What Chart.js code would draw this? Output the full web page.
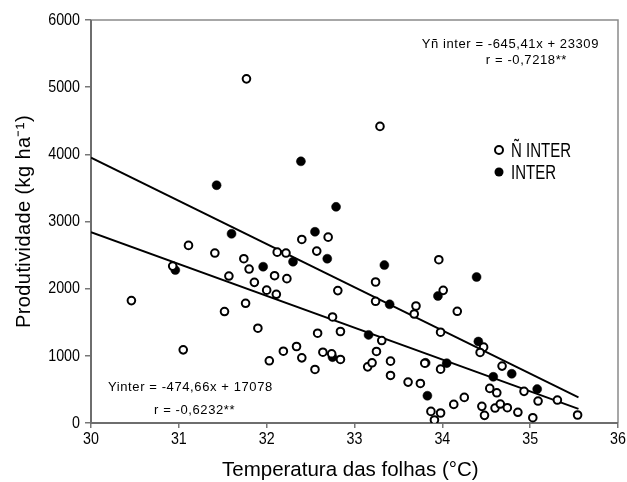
<!DOCTYPE html>
<html>
<head>
<meta charset="utf-8">
<script src="https://cdn.jsdelivr.net/npm/chart.js@4.4.0/dist/chart.umd.min.js"></script>
<style>
html,body{margin:0;padding:0;background:#fff;}
#wrap{width:627px;height:482px;position:relative;}
</style>
</head>
<body>
<div id="wrap"><canvas id="c" width="627" height="482"></canvas></div>
<script>
// Ñ INTER (open circles)
const nInterX = [31.77,33.29,30.46,31.05,30.93,31.11,31.41,31.57,31.52,31.74,31.80,31.86,31.76,31.90,32.00,32.09,32.11,32.12,32.22,32.23,32.03,32.19,32.34,32.40,32.55,32.40,32.57,32.70,32.81,32.75,32.58,32.84,32.64,32.74,32.84,33.96,33.24,33.24,34.01,33.70,33.68,34.17,33.98,33.31,33.25,33.15,33.20,33.41,33.41,33.80,33.98,33.61,33.75,33.87,33.98,33.91,34.13,34.25,34.47,34.43,34.68,34.54,34.62,34.45,34.48,34.60,34.66,34.74,34.86,34.93,35.09,35.03,35.31,35.54];
const nInterY = [5124,4416,1822,1089,2336,2644,2530,2188,1659,2446,2292,2094,1782,1411,1978,2193,1916,2544,2530,2149,926,1069,1139,970,797,2733,2559,2767,1971,1579,1337,1362,1054,1030,946,2431,2099,1812,1975,1742,1623,1663,1352,1228,1065,836,896,921,708,890,802,609,589,173,149,45,277,381,1129,1050,847,515,450,248,114,223,282,228,159,471,327,79,342,119];
// INTER (filled circles)
const interX = [30.96,31.60,31.96,32.30,32.55,32.69,32.75,31.43,32.39,32.79,33.34,34.39,33.40,33.95,33.16,33.81,34.05,33.83,34.41,34.79,34.58,35.08];
const interY = [2277,2817,2327,2401,2847,2446,980,3540,3896,3218,2351,2173,1767,1891,1312,896,891,406,1213,733,688,505];
// regression lines (end points)
const lineNX = [30, 35.55], lineNY = [3950, 380];
const lineIX = [30, 35.55], lineIY = [2840, 210];
// axes
const xTicks = [30,31,32,33,34,35,36];
const yTicks = [0,1000,2000,3000,4000,5000,6000];
const legendLabels = ['Ñ INTER','INTER'];
const eqN = ['Yñ inter = -645,41x + 23309','r = -0,7218**'];
const eqI = ['Yinter = -474,66x + 17078','r = -0,6232**'];
const xTitle = 'Temperatura das folhas (°C)';
const yTitle = 'Produtividade (kg ha⁻¹)';

const pts = (xs, ys) => xs.map((x,i)=>({x:x, y:ys[i]}));
const REG = '"Liberation Sans",Arial,sans-serif';

function sText(ctx, txt, x, y, size, sx, align, spacing){
  ctx.save();
  ctx.font = size + 'px ' + REG;
  ctx.textAlign = align;
  ctx.textBaseline = 'middle';
  if (spacing) ctx.letterSpacing = spacing + 'px';
  ctx.translate(x, y);
  ctx.scale(sx, 1);
  ctx.fillText(txt, 0, 0);
  ctx.restore();
}

const framePlugin = {
  id:'frame',
  beforeDatasetsDraw(chart){
    const a = chart.chartArea, ctx = chart.ctx;
    ctx.save();
    ctx.strokeStyle = '#8a8a8a';
    ctx.lineWidth = 1.5;
    ctx.beginPath();
    ctx.moveTo(a.left, a.top); ctx.lineTo(a.right, a.top); ctx.lineTo(a.right, a.bottom);
    ctx.stroke();
    ctx.strokeStyle = '#6e6e6e';
    ctx.lineWidth = 2;
    ctx.beginPath();
    ctx.moveTo(a.left, a.top); ctx.lineTo(a.left, a.bottom); ctx.lineTo(a.right, a.bottom);
    ctx.stroke();
    ctx.restore();
  },
  afterDraw(chart){
    const ctx = chart.ctx, sx = chart.scales.x, sy = chart.scales.y, a = chart.chartArea;
    ctx.save();
    ctx.fillStyle = '#000';
    // tick labels (condensed)
    xTicks.forEach(v => sText(ctx, String(v), sx.getPixelForValue(v), 439, 17, 0.84, 'center'));
    yTicks.forEach(v => sText(ctx, String(v), 80, sy.getPixelForValue(v), 17, 0.84, 'right'));
    // axis titles
    sText(ctx, xTitle, 222, 470, 20.5, 1, 'left');
    ctx.save();
    ctx.translate(24, (a.top + a.bottom) / 2);
    ctx.rotate(-Math.PI / 2);
    sText(ctx, yTitle, 0, 0, 20, 1, 'center', 0.4);
    ctx.restore();
    // equations
    sText(ctx, eqN[0], 599, 44, 13, 1, 'right', 0.6);
    sText(ctx, eqN[1], 567, 60, 13, 1, 'right', 0.6);
    sText(ctx, eqI[0], 108, 387, 13, 1, 'left', 0.6);
    sText(ctx, eqI[1], 154, 410, 13, 1, 'left', 0.6);
    // legend
    const lx = 499;
    ctx.lineWidth = 2;
    ctx.strokeStyle = '#000';
    ctx.beginPath(); ctx.arc(lx, 150, 4, 0, Math.PI*2); ctx.stroke();
    sText(ctx, legendLabels[0], 511, 151, 20, 0.75, 'left');
    ctx.beginPath(); ctx.arc(lx, 172, 4.5, 0, Math.PI*2); ctx.fill();
    sText(ctx, legendLabels[1], 511, 173, 20, 0.75, 'left');
    ctx.restore();
  }
};

new Chart(document.getElementById('c'), {
  type:'scatter',
  data:{
    datasets:[
      {label:'lineN', type:'line', data:pts(lineNX,lineNY), borderColor:'#000', borderWidth:1.9, pointRadius:0, fill:false, order:3},
      {label:'lineI', type:'line', data:pts(lineIX,lineIY), borderColor:'#000', borderWidth:1.9, pointRadius:0, fill:false, order:3},
      {label:legendLabels[0], data:pts(nInterX,nInterY), pointRadius:3.8, pointBorderWidth:2, pointBorderColor:'#000', pointBackgroundColor:'#fff', order:1},
      {label:legendLabels[1], data:pts(interX,interY), pointRadius:4.5, pointBorderWidth:0.5, pointBorderColor:'#000', pointBackgroundColor:'#000', order:2}
    ]
  },
  options:{
    responsive:false,
    animation:false,
    layout:{padding:{top:20, right:9, left:0, bottom:0}},
    plugins:{legend:{display:false}, tooltip:{enabled:false}},
    scales:{
      x:{
        type:'linear', min:30, max:36,
        afterBuildTicks(s){ s.ticks = xTicks.map(v=>({value:v})); },
        afterFit(s){ s.height = 59; s.paddingLeft = 0; s.paddingRight = 0; },
        grid:{drawOnChartArea:false, color:'#777', tickLength:5, lineWidth:1.5},
        border:{display:false},
        ticks:{display:false},
        title:{display:false}
      },
      y:{
        type:'linear', min:0, max:6000,
        afterBuildTicks(s){ s.ticks = yTicks.map(v=>({value:v})); },
        afterFit(s){ s.width = 91; s.paddingTop = 0; s.paddingBottom = 0; },
        grid:{drawOnChartArea:false, color:'#777', tickLength:6, lineWidth:1.5},
        border:{display:false},
        ticks:{display:false},
        title:{display:false}
      }
    }
  },
  plugins:[framePlugin]
});
</script>
</body>
</html>
